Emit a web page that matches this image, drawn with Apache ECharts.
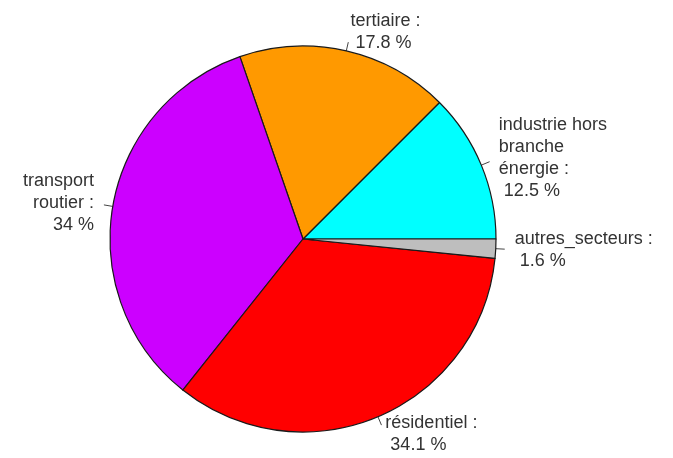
<!DOCTYPE html>
<html>
<head>
<meta charset="utf-8">
<script src="https://cdn.jsdelivr.net/npm/echarts@6/dist/echarts.min.js"></script>
<style>
  html, body { margin: 0; padding: 0; background: #fff; }
  #chart { width: 673px; height: 458px; }
</style>
</head>
<body>
<div id="chart"></div>
<script>
// secteurs, dans l'ordre du tracé (sens anti-horaire depuis 3 h)
var categories = [
  "industrie hors\nbranche\nénergie :",
  "tertiaire :",
  "transport\nroutier :",
  "résidentiel :",
  "autres_secteurs :"
];
var values = [12.5, 17.8, 34, 34.1, 1.6];
var colors = ["#00ffff", "#ff9900", "#cc00ff", "#ff0000", "#bebebe"];

var chart = echarts.init(document.getElementById("chart"));

chart.setOption({
  animation: false,
  series: [
    {
      type: "pie",
      center: [303, 239],
      radius: 193,
      startAngle: 0,
      clockwise: false,
      avoidLabelOverlap: false,
      data: categories.map(function (name, i) {
        return {
          name: name,
          value: values[i],
          itemStyle: { color: colors[i] }
        };
      }),
      itemStyle: {
        borderColor: "#1a1a1a",
        borderWidth: 1.2
      },
      emphasis: { disabled: true },
      label: {
        show: true,
        position: "outside",
        fontFamily: "Liberation Sans, Arial, sans-serif",
        fontSize: 18,
        lineHeight: 22,
        color: "#333",
        distanceToLabelLine: 0,
        formatter: function (p) {
          return p.name + "\n " + p.value + " %";
        }
      },
      labelLine: {
        show: true,
        length: 9,
        length2: 0,
        lineStyle: { color: "#444", width: 1 }
      },
      // comme R : le texte se pose un peu plus loin dans l'axe du trait
      labelLayout: function (p) {
        var pts = p.labelLinePoints;
        if (!pts) return {};
        var ux = pts[1][0] - pts[0][0];
        var uy = pts[1][1] - pts[0][1];
        var len = Math.sqrt(ux * ux + uy * uy) || 1;
        return { dx: ux / len * 10, dy: uy / len * 10 };
      }
    }
  ]
});
</script>
</body>
</html>
